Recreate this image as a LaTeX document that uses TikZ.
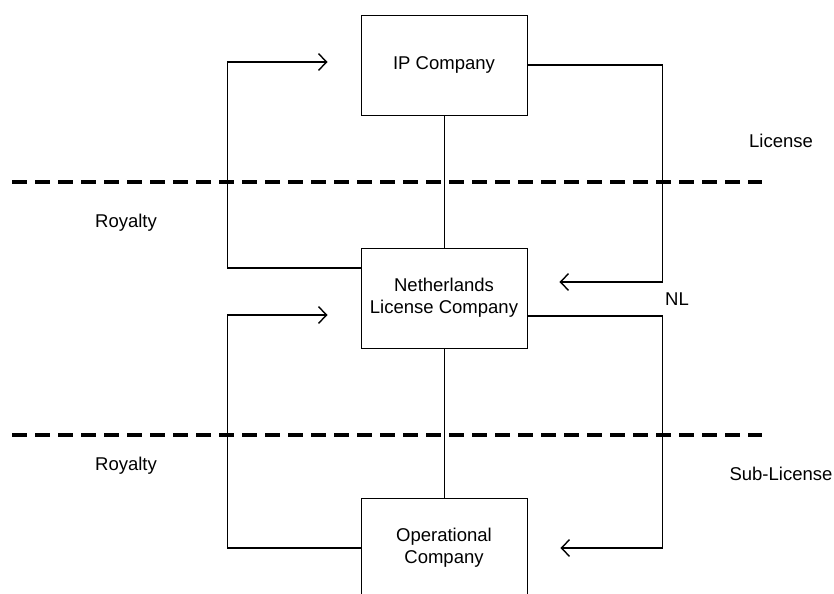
\documentclass[tikz,border=0pt]{standalone}
\usepackage{fontspec}
\setmainfont{Liberation Sans}
\usepackage{tikz}
\usetikzlibrary{arrows.meta, positioning, calc}

\begin{document}
\begin{tikzpicture}[
box/.style={draw, line width=0.8pt, minimum width=4.98cm, minimum height=3cm, align=center, inner sep=0pt},
arr/.style={-{Straight Barb[length=2.4mm, width=5mm]}, line width=1.2pt},
link/.style={line width=0.8pt},
border/.style={line width=2.6pt, dash pattern=on 4.5mm off 2.4mm},
every node/.style={font=\fontsize{15.8}{18.6}\selectfont}
]
\path[use as bounding box] (0,0) rectangle (25.02,-17.82);
\clip (0,0) rectangle (25.02,-17.82);

% companies
\node[box] (ip) at (13.32,-1.95) {IP Company};
\node[box] (nl) at (13.32,-8.94) {Netherlands\\License Company};
\node[box] (op) at (13.32,-16.44) {Operational\\Company};

% tax borders
\draw[border] (0.36,-5.46) -- (22.86,-5.46);
\draw[border] (0.36,-13.05) -- (22.86,-13.05);

% labels
\node (roy1) at (3.78,-6.69) {Royalty};
\node (lic) at (23.43,-4.23) {License};
\node (nllbl) at (20.31,-8.97) {NL};
\node (roy2) at (3.78,-13.98) {Royalty};
\node (sublic) at (23.43,-14.22) {Sub-License};

% arrow ends
\coordinate (roytip1) at ($(ip.west)+(-0.99,0.09)$);
\coordinate (lictip) at ($(nl.east)+(0.96,0.48)$);
\coordinate (roytip2) at ($(nl.west)+(-0.99,-0.51)$);
\coordinate (subtip) at ($(op.east)+(0.99,0)$);

% ownership
\draw[link] (ip) -- (nl);
\draw[link] (nl) -- (op);

% flows
\draw[arr] ($(nl.west)+(0,0.9)$) -- ++(-3.99,0) |- (roytip1);
\draw[arr] (ip.east) -- ++(4.05,0) |- (lictip);
\draw[arr] (op.west) -- ++(-3.99,0) |- (roytip2);
\draw[arr] ($(nl.east)+(0,-0.54)$) -- ++(4.05,0) |- (subtip);
\end{tikzpicture}
\end{document}
